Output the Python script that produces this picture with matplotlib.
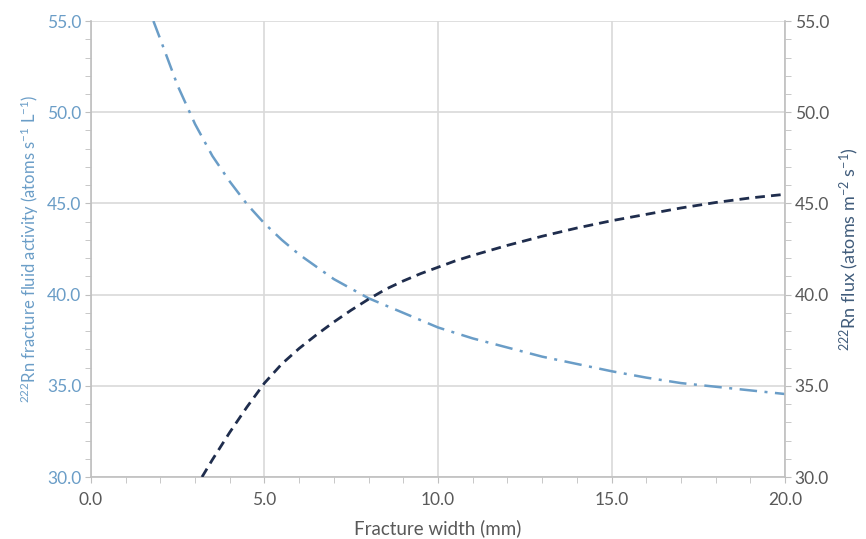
import matplotlib
matplotlib.use('Agg')
import matplotlib.pyplot as plt
from matplotlib.ticker import MultipleLocator, FormatStrFormatter

plt.rcParams['font.family'] = ['Lato', 'DejaVu Sans']
plt.rcParams['mathtext.default'] = 'regular'

# Rn fracture fluid activity (left axis)
activity_x = [1.8, 2.0, 2.5, 3.0, 3.5, 4.0, 4.5, 5.0, 5.5, 6.0, 7.0, 8.0, 9.0,
              10.0, 11.0, 12.0, 13.0, 14.0, 15.0, 16.0, 17.0, 18.0, 19.0, 20.0]
activity_y = [55.0, 54.0, 51.45, 49.35, 47.6, 46.2, 44.95, 43.9, 43.0, 42.2,
              40.85, 39.8, 39.0, 38.2, 37.6, 37.1, 36.6, 36.2, 35.8, 35.45,
              35.15, 34.95, 34.75, 34.55]

# Rn flux (right axis)
flux_x = [3.2, 3.5, 4.0, 4.5, 5.0, 5.5, 6.0, 6.5, 7.0, 7.5, 8.0, 8.5, 9.0,
          9.5, 10.0, 10.5, 11.0, 12.0, 13.0, 14.0, 15.0, 16.0, 17.0, 18.0,
          19.0, 20.0]
flux_y = [30.0, 30.95, 32.45, 33.85, 35.15, 36.2, 37.05, 37.8, 38.5, 39.15,
          39.75, 40.3, 40.75, 41.15, 41.5, 41.85, 42.15, 42.7, 43.2, 43.65,
          44.05, 44.4, 44.75, 45.05, 45.3, 45.5]

light_blue = '#6A9DC7'
navy = '#1F2D4D'
grid_col = '#D9D9D9'
spine_col = '#BFBFBF'
text_col = '#595959'

fig = plt.figure(figsize=(8.66, 5.39), dpi=100)
ax = fig.add_axes([0.105, 0.115, 0.8015, 0.846])
ax2 = ax.twinx()

ax.plot(activity_x, activity_y, color=light_blue, lw=1.8,
        linestyle=(0, (7, 3, 1.2, 3)), zorder=3)
ax2.plot(flux_x, flux_y, color=navy, lw=2.0, linestyle=(0, (3.5, 2.2)), zorder=3)

for a in (ax, ax2):
    a.set_xlim(0, 20)
    a.set_ylim(30, 55)
    a.yaxis.set_major_locator(MultipleLocator(5))
    a.yaxis.set_minor_locator(MultipleLocator(1))
    a.yaxis.set_major_formatter(FormatStrFormatter('%.1f'))
    for s in a.spines.values():
        s.set_visible(False)

ax.xaxis.set_major_locator(MultipleLocator(5))
ax.xaxis.set_minor_locator(MultipleLocator(1))
ax.xaxis.set_major_formatter(FormatStrFormatter('%.1f'))

ax.grid(True, which='major', color=grid_col, lw=1.2)
ax.set_axisbelow(True)
ax.spines['left'].set_visible(True)
ax.spines['bottom'].set_visible(True)
ax2.spines['right'].set_visible(True)
for s in (ax.spines['left'], ax.spines['bottom'], ax2.spines['right']):
    s.set_color(spine_col)
    s.set_linewidth(1.2)

ax.tick_params(axis='both', which='both', direction='out', color=spine_col,
               length=4, labelsize=12.5)
ax.tick_params(axis='y', labelcolor=light_blue, pad=3)
ax.tick_params(axis='x', labelcolor=text_col, pad=7)
ax2.tick_params(axis='y', which='both', direction='out', color=spine_col,
                length=4, labelsize=12.5, labelcolor=text_col, pad=3)

ax.set_xlabel('Fracture width (mm)', fontsize=13.5, color=text_col, labelpad=8)
ax.set_ylabel(r'$^{222}$Rn fracture fluid activity (atoms s$^{-1}$ L$^{-1}$)',
              fontsize=12, color=light_blue, labelpad=4)
ax2.set_ylabel(r'$^{222}$Rn flux (atoms m$^{-2}$ s$^{-1}$)',
               fontsize=13, color='#3F5B7A', labelpad=6)

plt.savefig('out.png', dpi=100)
plt.close()
